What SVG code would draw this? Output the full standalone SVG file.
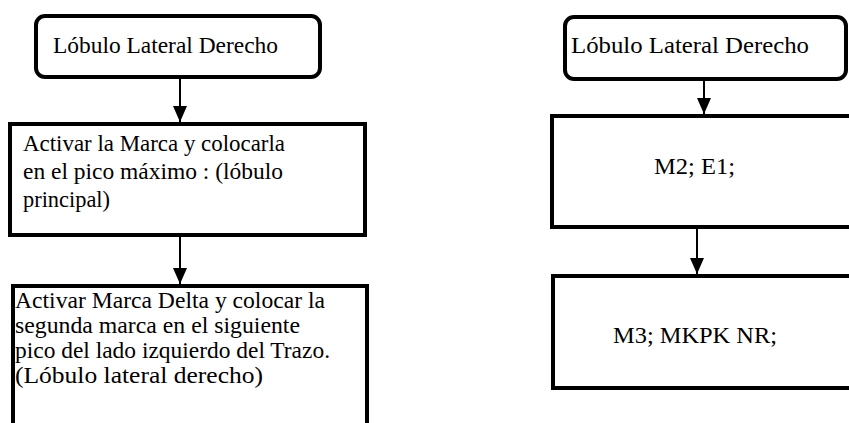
<svg xmlns="http://www.w3.org/2000/svg" width="849" height="423" viewBox="0 0 849 423">
<defs>
<style>
.box{fill:#fff;stroke:#000;stroke-width:4}
.t{font-family:'Liberation Serif','DejaVu Serif',serif;font-size:23px;fill:#000}
.c{stroke:#000;stroke-width:2;fill:none}
</style>
<marker id="ah" viewBox="0 0 16 14" refX="16" refY="7" markerWidth="16" markerHeight="14" markerUnits="userSpaceOnUse" orient="auto">
<path d="M0,0 L16,7 L0,14 Z" fill="#000"/>
</marker>
</defs>
<rect width="849" height="423" fill="#fff"/>
<g id="connectors">
<line class="c" x1="180" y1="78" x2="180" y2="122" marker-end="url(#ah)"/>
<line class="c" x1="180" y1="236" x2="180" y2="284" marker-end="url(#ah)"/>
<line class="c" x1="704" y1="80" x2="704" y2="114" marker-end="url(#ah)"/>
<line class="c" x1="697" y1="228" x2="697" y2="274" marker-end="url(#ah)"/>
</g>
<g id="n1">
<rect class="box" x="36" y="16" width="284" height="61" rx="9"/>
<text class="t" font-family="Liberation Serif" x="53" y="53" textLength="225" lengthAdjust="spacingAndGlyphs">Lóbulo Lateral Derecho</text>
</g>
<g id="n2">
<rect class="box" x="10" y="124" width="355" height="111"/>
<text class="t" x="23" y="151" textLength="262" lengthAdjust="spacingAndGlyphs">Activar la Marca y colocarla</text>
<text class="t" x="23" y="179" textLength="260" lengthAdjust="spacingAndGlyphs">en el pico máximo : (lóbulo</text>
<text class="t" x="23" y="207" textLength="87" lengthAdjust="spacingAndGlyphs">principal)</text>
</g>
<g id="n3">
<rect class="box" x="13" y="286" width="354" height="160"/>
<text class="t" x="15" y="308" textLength="310" lengthAdjust="spacingAndGlyphs">Activar Marca Delta y colocar la</text>
<text class="t" x="15" y="333" textLength="285" lengthAdjust="spacingAndGlyphs">segunda marca en el siguiente</text>
<text class="t" x="15" y="358" textLength="315" lengthAdjust="spacingAndGlyphs">pico del lado izquierdo del Trazo.</text>
<text class="t" x="15" y="383" textLength="248" lengthAdjust="spacingAndGlyphs">(Lóbulo lateral derecho)</text>
</g>
<g id="n4">
<rect class="box" x="565" y="17" width="281" height="62" rx="9"/>
<text class="t" x="571" y="53" textLength="238" lengthAdjust="spacingAndGlyphs">Lóbulo Lateral Derecho</text>
</g>
<g id="n5">
<rect class="box" x="552" y="116" width="310" height="111"/>
<text class="t" x="654" y="174" textLength="81" lengthAdjust="spacingAndGlyphs">M2; E1;</text>
</g>
<g id="n6">
<rect class="box" x="553" y="276" width="310" height="112"/>
<text class="t" x="613" y="343" textLength="164" lengthAdjust="spacingAndGlyphs">M3; MKPK NR;</text>
</g>
</svg>
